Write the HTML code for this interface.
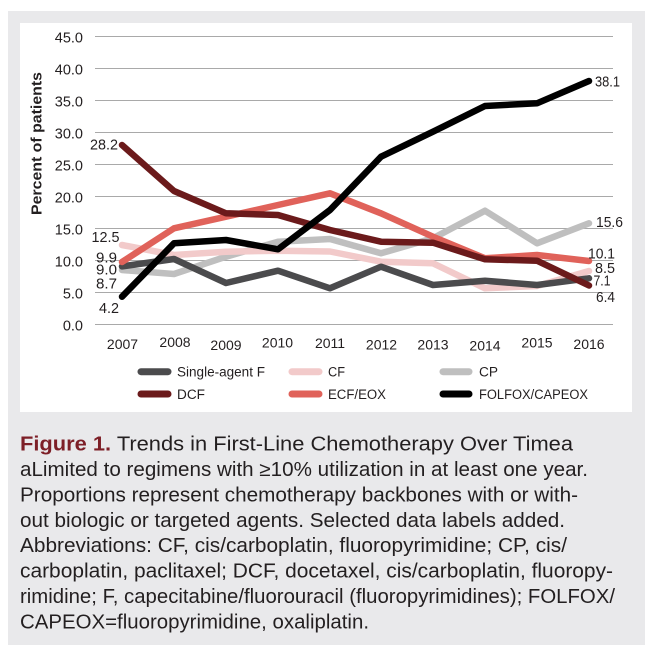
<!DOCTYPE html>
<html>
<head>
<meta charset="utf-8">
<style>
  html, body { margin: 0; padding: 0; background: #ffffff; }
  svg { display: block; }
  text { font-family: "Liberation Sans", Arial, sans-serif; fill: #231f20; }
</style>
</head>
<body>
<svg width="654" height="658" viewBox="0 0 654 658" xmlns="http://www.w3.org/2000/svg">
  <rect x="0" y="0" width="654" height="658" fill="#ffffff"/>
  <!-- outer gray panel -->
  <rect x="8" y="11" width="637" height="634" fill="#e9e9eb"/>
  <!-- white chart box -->
  <rect x="20" y="23" width="612" height="389" fill="#ffffff"/>

  <!-- gridlines -->
  <g stroke="#a9a9a9" stroke-width="1">
    <line x1="95" y1="36.5" x2="613" y2="36.5"/>
    <line x1="95" y1="68.5" x2="613" y2="68.5"/>
    <line x1="95" y1="100.5" x2="613" y2="100.5"/>
    <line x1="95" y1="132.5" x2="613" y2="132.5"/>
    <line x1="95" y1="164.5" x2="613" y2="164.5"/>
    <line x1="95" y1="196.5" x2="613" y2="196.5"/>
    <line x1="95" y1="228.5" x2="613" y2="228.5"/>
    <line x1="95" y1="260.5" x2="613" y2="260.5"/>
    <line x1="95" y1="292.5" x2="613" y2="292.5"/>
    <line x1="95" y1="324.5" x2="613" y2="324.5"/>
  </g>

  <!-- y tick labels -->
  <g font-size="14.5" text-anchor="end">
    <text x="83" y="42.3">45.0</text>
    <text x="83" y="74.3">40.0</text>
    <text x="83" y="106.3">35.0</text>
    <text x="83" y="138.3">30.0</text>
    <text x="83" y="170.3">25.0</text>
    <text x="83" y="202.3">20.0</text>
    <text x="83" y="234.3">15.0</text>
    <text x="83" y="266.3">10.0</text>
    <text x="83" y="298.3">5.0</text>
    <text x="83" y="330.3">0.0</text>
  </g>

  <!-- y axis title -->
  <text x="0" y="0" font-size="14.5" font-weight="bold" text-anchor="middle" textLength="143" lengthAdjust="spacingAndGlyphs" transform="translate(41.5,143.5) rotate(-90)">Percent of patients</text>

  <!-- x labels -->
  <g font-size="14" text-anchor="middle">
    <text x="122.5" y="349">2007</text>
    <text x="175" y="347">2008</text>
    <text x="226" y="350">2009</text>
    <text x="277.5" y="347.3">2010</text>
    <text x="330" y="348">2011</text>
    <text x="381.5" y="349.3">2012</text>
    <text x="433" y="349.3">2013</text>
    <text x="485" y="350.7">2014</text>
    <text x="537" y="347.3">2015</text>
    <text x="589" y="349">2016</text>
  </g>

  <!-- series -->
  <g fill="none" stroke-width="6.5" stroke-linecap="round" stroke-linejoin="round">
    <!-- CP -->
    <polyline stroke="#bfbfbf" points="122,270 174,274 226,256.7 278,241.7 330,239 381,253.3 433,238.3 485,210.7 537,243.3 589,223.3"/>
    <!-- CF -->
    <polyline stroke="#f2caca" points="122,245 174,255 226,251.7 278,250.7 330,251.5 381,261.7 433,263.3 485,288.3 537,286 589,271"/>
    <!-- Single-agent F -->
    <polyline stroke="#4b4b4d" points="122,266.4 174,259 226,283 278,270.7 330,288.3 381,266.7 433,285 485,280.7 537,285 589,278.3"/>
    <!-- ECF/EOX -->
    <polyline stroke="#e0625a" points="122,262 174,228.3 226,216.7 278,205 330,193.3 381,213.3 433,236.7 485,258.3 537,255 589,261"/>
    <!-- DCF -->
    <polyline stroke="#6b1a1b" points="122,145 174,191 226,213.3 278,215 330,230 381,241.7 433,242.7 485,259.3 537,260.7 589,285.5"/>
    <!-- FOLFOX/CAPEOX -->
    <polyline stroke="#000000" points="122,296.7 174,243.3 226,240 278,249.3 330,210 381,156.7 433,131.7 485,106 537,103.3 589,81"/>
  </g>

  <!-- data labels -->
  <g font-size="14.5">
    <text x="90" y="149.5" textLength="28" lengthAdjust="spacingAndGlyphs">28.2</text>
    <text x="91.5" y="242" textLength="28" lengthAdjust="spacingAndGlyphs">12.5</text>
    <text x="96" y="262.3" textLength="21" lengthAdjust="spacingAndGlyphs">9.9</text>
    <text x="96" y="274.3" textLength="21" lengthAdjust="spacingAndGlyphs">9.0</text>
    <text x="96" y="288.6" textLength="21" lengthAdjust="spacingAndGlyphs">8.7</text>
    <text x="99" y="313" textLength="20" lengthAdjust="spacingAndGlyphs">4.2</text>
    <text x="595" y="86.3" textLength="25" lengthAdjust="spacingAndGlyphs">38.1</text>
    <text x="596" y="227" textLength="27" lengthAdjust="spacingAndGlyphs">15.6</text>
    <text x="588" y="258.5" textLength="27" lengthAdjust="spacingAndGlyphs">10.1</text>
    <text x="595" y="273" textLength="20" lengthAdjust="spacingAndGlyphs">8.5</text>
    <text x="593.5" y="285.5" textLength="17" lengthAdjust="spacingAndGlyphs">7.1</text>
    <text x="596" y="302" textLength="19" lengthAdjust="spacingAndGlyphs">6.4</text>
  </g>

  <!-- legend -->
  <g stroke-width="7" stroke-linecap="round">
    <line x1="141" y1="371.7" x2="168" y2="371.7" stroke="#4b4b4d"/>
    <line x1="292" y1="371.7" x2="319" y2="371.7" stroke="#f2caca"/>
    <line x1="443" y1="371.7" x2="469" y2="371.7" stroke="#bfbfbf"/>
    <line x1="141" y1="394" x2="168" y2="394" stroke="#6b1a1b"/>
    <line x1="292" y1="394" x2="319" y2="394" stroke="#e0625a"/>
    <line x1="443" y1="394" x2="469" y2="394" stroke="#000000"/>
  </g>
  <g font-size="13.5">
    <text x="177" y="376.5" textLength="88" lengthAdjust="spacingAndGlyphs">Single-agent F</text>
    <text x="328" y="376.5" textLength="17" lengthAdjust="spacingAndGlyphs">CF</text>
    <text x="479" y="376.5" textLength="19" lengthAdjust="spacingAndGlyphs">CP</text>
    <text x="177" y="399" textLength="28" lengthAdjust="spacingAndGlyphs">DCF</text>
    <text x="328" y="399" textLength="58" lengthAdjust="spacingAndGlyphs">ECF/EOX</text>
    <text x="479" y="399" textLength="109" lengthAdjust="spacingAndGlyphs">FOLFOX/CAPEOX</text>
  </g>

  <!-- caption -->
  <g font-size="20">
    <text x="20" y="450.7" textLength="553" lengthAdjust="spacingAndGlyphs"><tspan font-weight="bold" fill="#7d1f27">Figure 1.</tspan> Trends in First-Line Chemotherapy Over Timea</text>
    <text x="20" y="476.1" textLength="568" lengthAdjust="spacingAndGlyphs">aLimited to regimens with ≥10% utilization in at least one year.</text>
    <text x="20" y="501.4" textLength="558" lengthAdjust="spacingAndGlyphs">Proportions represent chemotherapy backbones with or with-</text>
    <text x="20" y="526.8" textLength="545" lengthAdjust="spacingAndGlyphs">out biologic or targeted agents. Selected data labels added.</text>
    <text x="20" y="552.2" textLength="547" lengthAdjust="spacingAndGlyphs">Abbreviations: CF, cis/carboplatin, fluoropyrimidine; CP, cis/</text>
    <text x="20" y="577.5" textLength="593" lengthAdjust="spacingAndGlyphs">carboplatin, paclitaxel; DCF, docetaxel, cis/carboplatin, fluoropy-</text>
    <text x="20" y="602.9" textLength="595" lengthAdjust="spacingAndGlyphs">rimidine; F, capecitabine/fluorouracil (fluoropyrimidines); FOLFOX/</text>
    <text x="20" y="628.3" textLength="349" lengthAdjust="spacingAndGlyphs">CAPEOX=fluoropyrimidine, oxaliplatin.</text>
  </g>
</svg>
</body>
</html>
